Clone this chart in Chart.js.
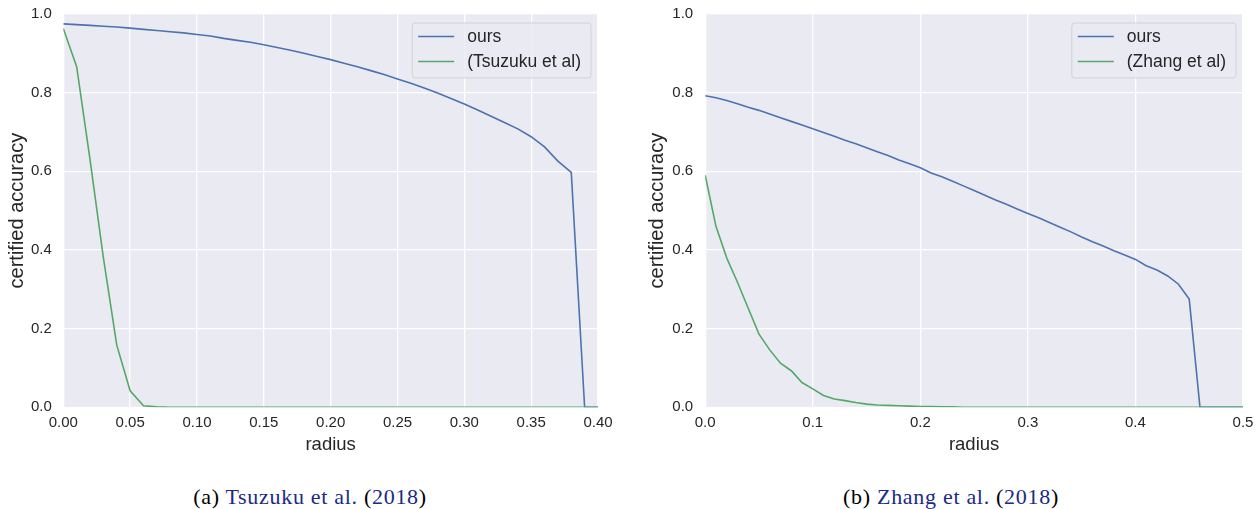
<!DOCTYPE html>
<html>
<head>
<meta charset="utf-8">
<script src="https://cdn.jsdelivr.net/npm/chart.js@4"></script>
<style>
    body { margin: 0; background: #fff; width: 1260px; height: 509px; position: relative; overflow: hidden; }
    .panel { position: absolute; top: 0; height: 470px; }
    .caption { position: absolute; top: 485.6px; font-family: "Liberation Serif", "Times New Roman", serif; font-size: 22px; line-height: 22px; letter-spacing: 0.7px; color: #000; white-space: nowrap; transform: translateX(-50%); }
    .caption .cite { color: #1b2a86; }
</style>
</head>
<body>
<div class="panel" style="left:0; width:630px;"><canvas id="graficoTsuzuku"></canvas></div>
<div class="panel" style="left:640px; width:620px;"><canvas id="graficoZhang"></canvas></div>
<div class="caption" style="left:310px;">(a) <span class="cite">Tsuzuku et al.</span> (<span class="cite">2018</span>)</div>
<div class="caption" style="left:951px;">(b) <span class="cite">Zhang et al.</span> (<span class="cite">2018</span>)</div>

<script>
// radios y precisiones (a)
const radiusA = [0.00, 0.01, 0.02, 0.03, 0.04, 0.05, 0.06, 0.07, 0.08, 0.09,
                 0.10, 0.11, 0.12, 0.13, 0.14, 0.15, 0.16, 0.17, 0.18, 0.19,
                 0.20, 0.21, 0.22, 0.23, 0.24, 0.25, 0.26, 0.27, 0.28, 0.29,
                 0.30, 0.31, 0.32, 0.33, 0.34, 0.35, 0.36, 0.37, 0.38, 0.39, 0.40];
const oursA = [0.975, 0.973, 0.971, 0.969, 0.967, 0.964, 0.961, 0.958, 0.955, 0.952,
               0.948, 0.944, 0.938, 0.933, 0.928, 0.922, 0.915, 0.908, 0.900, 0.892,
               0.884, 0.875, 0.866, 0.856, 0.846, 0.835, 0.824, 0.812, 0.799, 0.785,
               0.771, 0.756, 0.740, 0.724, 0.708, 0.688, 0.662, 0.626, 0.597, 0.000, 0.000];
const tsuzuku = [0.963, 0.866, 0.630, 0.380, 0.158, 0.042, 0.004, 0.001, 0, 0,
                 0, 0, 0, 0, 0, 0, 0, 0, 0, 0,
                 0, 0, 0, 0, 0, 0, 0, 0, 0, 0,
                 0, 0, 0, 0, 0, 0, 0, 0, 0, 0, 0];

// radios y precisiones (b)
const radiusB = [0.00, 0.01, 0.02, 0.03, 0.04, 0.05, 0.06, 0.07, 0.08, 0.09,
                 0.10, 0.11, 0.12, 0.13, 0.14, 0.15, 0.16, 0.17, 0.18, 0.19,
                 0.20, 0.21, 0.22, 0.23, 0.24, 0.25, 0.26, 0.27, 0.28, 0.29,
                 0.30, 0.31, 0.32, 0.33, 0.34, 0.35, 0.36, 0.37, 0.38, 0.39,
                 0.40, 0.41, 0.42, 0.43, 0.44, 0.45, 0.46, 0.47, 0.48, 0.49, 0.50];
const oursB = [0.792, 0.787, 0.780, 0.772, 0.763, 0.755, 0.746, 0.736, 0.727, 0.718,
               0.708, 0.699, 0.689, 0.679, 0.670, 0.660, 0.650, 0.640, 0.629, 0.619,
               0.609, 0.596, 0.586, 0.575, 0.563, 0.551, 0.539, 0.527, 0.516, 0.504,
               0.493, 0.482, 0.470, 0.458, 0.446, 0.433, 0.421, 0.410, 0.398, 0.387,
               0.376, 0.360, 0.349, 0.334, 0.313, 0.275, 0.000, 0.000, 0.000, 0.000, 0.000];
const zhang = [0.590, 0.460, 0.380, 0.318, 0.252, 0.186, 0.146, 0.112, 0.093, 0.063,
               0.047, 0.030, 0.021, 0.017, 0.012, 0.008, 0.006, 0.005, 0.004, 0.003,
               0.002, 0.002, 0.001, 0.001, 0, 0, 0, 0, 0, 0,
               0, 0, 0, 0, 0, 0, 0, 0, 0, 0,
               0, 0, 0, 0, 0, 0, 0, 0, 0, 0, 0];

const yTicks = [0.0, 0.2, 0.4, 0.6, 0.8, 1.0];

const SANS = '"Liberation Sans", Arial, sans-serif';
const TEXT = '#262626';
Chart.defaults.font.family = SANS;
Chart.defaults.color = TEXT;

// fondo gris del area de trazado (estilo seaborn)
const fondo = {
    id: 'fondo',
    beforeDraw(chart) {
        const {ctx, chartArea: a} = chart;
        ctx.save();
        ctx.fillStyle = '#EAEAF2';
        ctx.fillRect(a.left, a.top, a.right - a.left, a.bottom - a.top);
        ctx.restore();
    }
};

// leyenda dentro del area, arriba a la derecha
const leyenda = {
    id: 'leyenda',
    afterDraw(chart) {
        const {ctx, chartArea: a} = chart;
        const sets = chart.data.datasets;
        ctx.save();
        ctx.font = '17.5px ' + SANS;
        const textW = Math.max(...sets.map(d => ctx.measureText(d.label).width));
        const w = 6 + 36 + 13 + textW + 10;
        const x = a.right - 7 - w, y = a.top + 9;
        ctx.beginPath();
        ctx.roundRect(x, y, w, 55, 3);
        ctx.fillStyle = 'rgba(234,234,242,0.8)';
        ctx.fill();
        ctx.strokeStyle = 'rgba(204,204,204,0.8)';
        ctx.lineWidth = 1;
        ctx.stroke();
        sets.forEach((d, i) => {
            const ly = y + 13.5 + i * 25;
            ctx.beginPath();
            ctx.moveTo(x + 6, ly);
            ctx.lineTo(x + 42, ly);
            ctx.strokeStyle = d.borderColor;
            ctx.lineWidth = 1.6;
            ctx.stroke();
            ctx.fillStyle = TEXT;
            ctx.textBaseline = 'middle';
            ctx.fillText(d.label, x + 55, ly + 1);
        });
        ctx.restore();
    }
};

function crearGrafico(id, radius, ours, other, otherLabel, opts) {
    const ctx = document.getElementById(id).getContext('2d');
    return new Chart(ctx, {
        type: 'line',
        data: {
            datasets: [
                {
                    label: 'ours',
                    data: radius.map((r, i) => ({x: r, y: ours[i]})),
                    borderColor: '#4C72B0',
                    borderWidth: 1.6,
                    pointRadius: 0,
                    tension: 0,
                    order: 1
                },
                {
                    label: otherLabel,
                    data: radius.map((r, i) => ({x: r, y: other[i]})),
                    borderColor: '#55A868',
                    borderWidth: 1.6,
                    pointRadius: 0,
                    tension: 0,
                    order: 0
                }
            ]
        },
        options: {
            responsive: true,
            maintainAspectRatio: false,
            animation: false,
            layout: { padding: { left: 0, right: opts.padRight, top: 14, bottom: 0 } },
            plugins: { legend: { display: false }, tooltip: { enabled: false } },
            scales: {
                x: {
                    type: 'linear',
                    min: 0,
                    max: opts.xMax,
                    grid: { color: '#ffffff', lineWidth: 1.3, drawTicks: false },
                    border: { display: false },
                    ticks: {
                        stepSize: opts.xStep,
                        padding: 7,
                        color: TEXT,
                        font: { size: 15 },
                        maxRotation: 0,
                        callback: v => v.toFixed(opts.xDigits)
                    },
                    title: {
                        display: true,
                        text: 'radius',
                        color: TEXT,
                        font: { size: 18.5 },
                        padding: { top: 0, bottom: 13.5 }
                    },
                    afterFit: s => { s.height = 62.7; s.paddingLeft = 0; s.paddingRight = 0; }
                },
                y: {
                    min: 0,
                    max: 1,
                    grid: { color: '#ffffff', lineWidth: 1.3, drawTicks: false },
                    border: { display: false },
                    afterBuildTicks: s => { s.ticks = yTicks.map(v => ({value: v})); },
                    ticks: {
                        padding: opts.yPad,
                        color: TEXT,
                        font: { size: 15 },
                        callback: v => v.toFixed(1)
                    },
                    title: {
                        display: true,
                        text: 'certified accuracy',
                        color: TEXT,
                        font: { size: 20 },
                        padding: { top: 5, bottom: 0 }
                    },
                    afterFit: s => { s.width = opts.yWidth; s.paddingTop = 0; s.paddingBottom = 0; }
                }
            }
        },
        plugins: [fondo, leyenda]
    });
}

document.addEventListener('DOMContentLoaded', function(){
    // (a) comparacion con Tsuzuku et al.
    crearGrafico('graficoTsuzuku', radiusA, oursA, tsuzuku, '(Tsuzuku et al)',
        { xMax: 0.4, xStep: 0.05, xDigits: 2, yWidth: 63.3, yPad: 11.5, padRight: 32 });
    // (b) comparacion con Zhang et al.
    crearGrafico('graficoZhang', radiusB, oursB, zhang, '(Zhang et al)',
        { xMax: 0.5, xStep: 0.1, xDigits: 1, yWidth: 65.2, yPad: 12, padRight: 17 });
});
</script>
</body>
</html>
